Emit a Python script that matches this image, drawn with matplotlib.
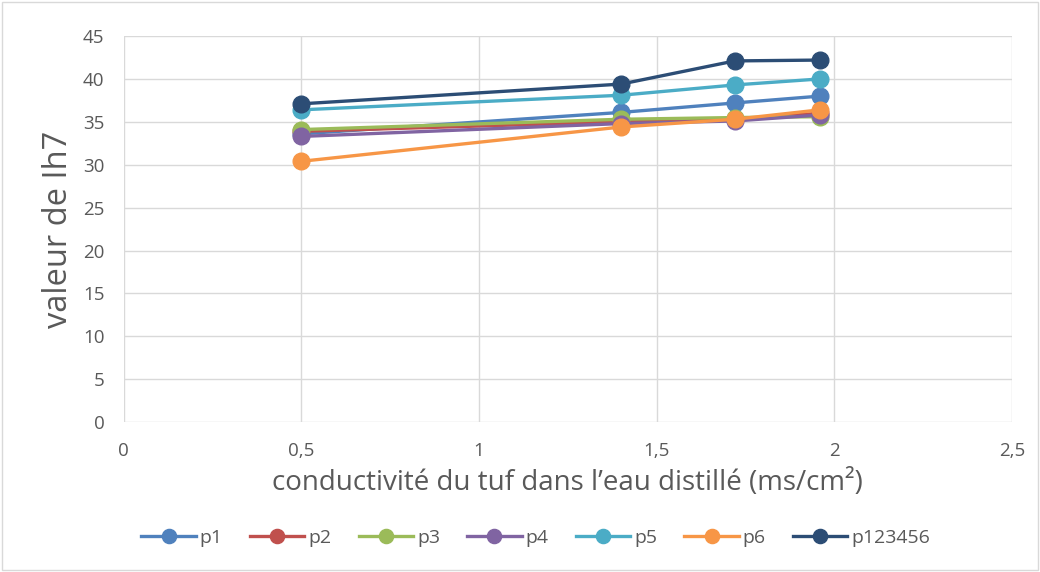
import matplotlib.pyplot as plt
from matplotlib.ticker import FuncFormatter

plt.rcParams['font.family'] = ['Open Sans', 'DejaVu Sans']

# data
x = [0.5, 1.4, 1.72, 1.96]
p1 = [33.6, 36.1, 37.2, 38.0]
p2 = [33.9, 35.0, 35.3, 36.0]
p3 = [34.1, 35.3, 35.5, 35.6]
p4 = [33.3, 34.8, 35.1, 35.8]
p5 = [36.4, 38.1, 39.3, 40.0]
p6 = [30.4, 34.4, 35.3, 36.4]
p123456 = [37.1, 39.4, 42.1, 42.2]

series = [('p1', p1, '#4F81BD'), ('p2', p2, '#C0504D'), ('p3', p3, '#9BBB59'),
          ('p4', p4, '#8064A2'), ('p5', p5, '#4BACC6'), ('p6', p6, '#F79646'),
          ('p123456', p123456, '#2C4D75')]

fig = plt.figure(figsize=(10.4, 5.72), dpi=100)
ax = fig.add_axes([0.119, 0.262, 0.854, 0.675])

for name, vals, col in series:
    ax.plot(x, vals, color=col, linewidth=2.4, marker='o', markersize=12, label=name)

ax.set_xlim(0, 2.5)
ax.set_ylim(0, 45)
ax.set_xticks([0, 0.5, 1, 1.5, 2, 2.5])
ax.set_yticks(range(0, 46, 5))
ax.xaxis.set_major_formatter(FuncFormatter(lambda v, _: f'{v:g}'.replace('.', ',')))
ax.grid(True, color='#D9D9D9', linewidth=1)
ax.set_axisbelow(True)
for s in ax.spines.values():
    s.set_visible(False)
ax.tick_params(length=0, labelsize=13.5, labelcolor='#595959')
ax.tick_params(axis='x', pad=14)
ax.tick_params(axis='y', pad=14)

ax.set_xlabel('conductivité du tuf dans l’eau distillé (ms/cm²)', fontsize=20, color='#595959')
ax.xaxis.set_label_coords(0.5, -0.158)
ax.xaxis.label.set_va('center')
ax.set_ylabel('valeur de Ih7', fontsize=23.5, color='#595959')
ax.yaxis.set_label_coords(-0.074, 0.5)
ax.yaxis.label.set_va('center')
ax.yaxis.label.set_ha('center')

ax.legend(loc='center', bbox_to_anchor=(0.464, -0.30), ncol=7, frameon=False,
          fontsize=14, labelcolor='#595959', handlelength=2.8, columnspacing=1.4,
          handletextpad=0.2, markerscale=0.85)

fig.patches.append(plt.Rectangle((0.002, 0.003), 0.996, 0.994, transform=fig.transFigure,
                                 fill=False, edgecolor='#D9D9D9', linewidth=1))

plt.savefig('out.png', dpi=100, facecolor='white')
